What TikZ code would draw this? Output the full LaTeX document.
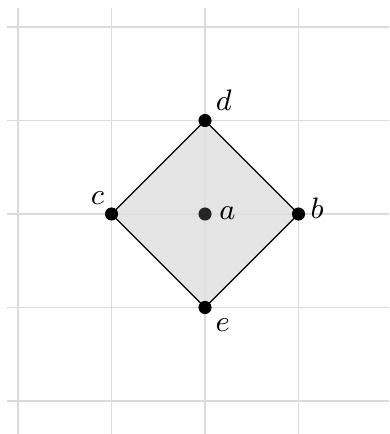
\documentclass[tikz,border=0pt]{standalone}
\usetikzlibrary{backgrounds}

\begin{document}
\begin{tikzpicture}[vertex/.style={circle,fill=black,inner sep=0pt,minimum size=0.14cm},
centre/.style={circle,fill=black!85,inner sep=0pt,minimum size=0.14cm},
ptlabel/.style={inner sep=0pt,font=\small},
gridline/.style={draw=black!14,line width=0.35pt}]
\useasboundingbox (-2.193,-2.353) rectangle (1.968,2.289);
\node at (0,0) [centre] (a) {};
\node at (1,0) [vertex] (b) {};
\node at (-1,0) [vertex] (c) {};
\node at (0,1) [vertex] (d) {};
\node at (0,-1) [vertex] (e) {};
\begin{scope}[on background layer]
\foreach \x in {-2,...,1}
  \draw[gridline] (\x,2.2) -- (\x,-2.353);
\foreach \y in {-2,...,2}
  \draw[gridline] (-2.12,\y) -- (1.968,\y);
\filldraw[fill=black!12,fill opacity=0.85,draw=black,line width=0.4pt] (b.center) -- (d.center) -- (c.center) -- (e.center) -- cycle;
\end{scope}
\node at (0.24,0.01) [ptlabel] (a-label) {$a$};
\node at (1.2,0.065) [ptlabel] (b-label) {$b$};
\node at (-1.15,0.17) [ptlabel] (c-label) {$c$};
\node at (0.2,1.22) [ptlabel] (d-label) {$d$};
\node at (0.19,-1.19) [ptlabel] (e-label) {$e$};
\end{tikzpicture}
\end{document}
